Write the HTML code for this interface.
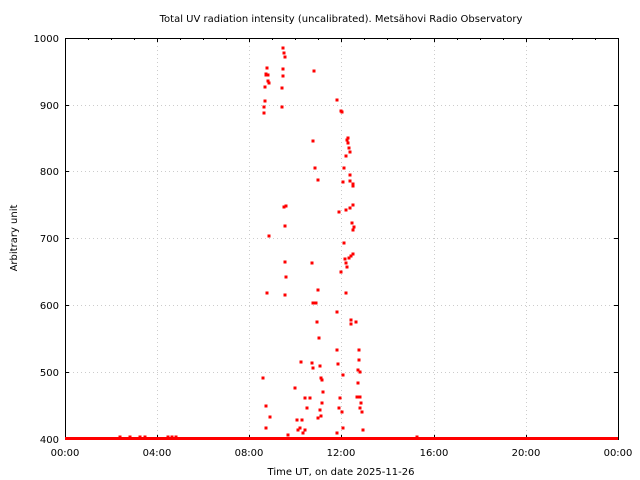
<!DOCTYPE html>
<html><head><meta charset="utf-8"><style>body{margin:0;background:#fff}svg{display:block}text{font-family:"DejaVu Sans","Liberation Sans",sans-serif;font-size:10px;fill:#000}</style></head><body>
<svg width="640" height="480" viewBox="0 0 640 480">
<g stroke="#ccc" stroke-dasharray="1,3" stroke-width="1">
<line x1="157.5" y1="38" x2="157.5" y2="439"/><line x1="249.5" y1="38" x2="249.5" y2="439"/><line x1="341.5" y1="38" x2="341.5" y2="439"/><line x1="434.5" y1="38" x2="434.5" y2="439"/><line x1="526.5" y1="38" x2="526.5" y2="439"/>
<line x1="65" y1="105.5" x2="618" y2="105.5"/><line x1="65" y1="171.5" x2="618" y2="171.5"/><line x1="65" y1="238.5" x2="618" y2="238.5"/><line x1="65" y1="305.5" x2="618" y2="305.5"/><line x1="65" y1="372.5" x2="618" y2="372.5"/>
</g>
<rect x="65.5" y="38.5" width="553" height="401" fill="none" stroke="#000"/>
<path stroke="#000" fill="none" d="M65.5 439v-4M88.5 439v-2M111.5 439v-2M134.5 439v-2M157.5 439v-4M180.5 439v-2M203.5 439v-2M226.5 439v-2M249.5 439v-4M272.5 439v-2M295.5 439v-2M318.5 439v-2M341.5 439v-4M364.5 439v-2M387.5 439v-2M410.5 439v-2M434.5 439v-4M457.5 439v-2M480.5 439v-2M503.5 439v-2M526.5 439v-4M549.5 439v-2M572.5 439v-2M595.5 439v-2M618.5 439v-4
M65.5 38v4M88.5 38v2M111.5 38v2M134.5 38v2M157.5 38v4M180.5 38v2M203.5 38v2M226.5 38v2M249.5 38v4M272.5 38v2M295.5 38v2M318.5 38v2M341.5 38v4M364.5 38v2M387.5 38v2M410.5 38v2M434.5 38v4M457.5 38v2M480.5 38v2M503.5 38v2M526.5 38v4M549.5 38v2M572.5 38v2M595.5 38v2M618.5 38v4
M65 105.5h4M65 171.5h4M65 238.5h4M65 305.5h4M65 372.5h4M618 105.5h-4M618 171.5h-4M618 238.5h-4M618 305.5h-4M618 372.5h-4"/>
<path stroke="#f00" stroke-width="3" stroke-linecap="square" fill="none" d="M264 113h0M264 107h0M265 101h0M265 87h0M266 75h0M266 74h0M267 68h0M268 75h0M268 81h0M269 83h0M267 293h0M269 236h0M270 417h0M263 378h0M266 406h0M266 428h0M283 48h0M284 53h0M285 57h0M283 69h0M283 76h0M282 88h0M282 107h0M284 207h0M286 206h0M285 226h0M285 262h0M286 277h0M285 295h0M288 435h0M314 71h0M313 141h0M315 168h0M318 180h0M312 263h0M313 303h0M316 303h0M318 290h0M317 322h0M319 338h0M320 366h0M321 378h0M322 380h0M323 392h0M322 403h0M320 410h0M321 416h0M318 418h0M295 388h0M301 362h0M305 398h0M307 408h0M310 398h0M312 363h0M313 368h0M300 428h0M302 420h0M305 430h0M298 430h0M297 420h0M303 433h0M337 100h0M341 111h0M342 112h0M348 138h0M347 140h0M348 143h0M349 148h0M350 152h0M346 156h0M344 168h0M350 175h0M350 181h0M353 184h0M353 186h0M343 182h0M339 212h0M346 210h0M350 208h0M353 205h0M352 223h0M354 227h0M353 230h0M344 243h0M345 259h0M346 263h0M347 267h0M349 258h0M351 256h0M353 254h0M341 272h0M346 293h0M337 312h0M351 320h0M351 324h0M356 322h0M337 350h0M338 364h0M343 375h0M359 350h0M359 360h0M358 370h0M360 372h0M358 383h0M360 397h0M357 397h0M361 403h0M360 408h0M362 412h0M340 398h0M339 408h0M342 412h0M363 430h0M343 428h0M337 433h0M120 437h0M130 437h0M140 437h0M145 437h0M168 437h0M172 437h0M176 437h0M417 437h0"/>
<line x1="65" y1="438.5" x2="618" y2="438.5" stroke="#f00" stroke-width="3"/>
<text x="341" y="22" text-anchor="middle">Total UV radiation intensity (uncalibrated). Metsähovi Radio Observatory</text>
<g text-anchor="end"><text x="59" y="42">1000</text><text x="59" y="109">900</text><text x="59" y="175">800</text><text x="59" y="242">700</text><text x="59" y="309">600</text><text x="59" y="376">500</text><text x="59" y="443">400</text></g>
<g text-anchor="middle"><text x="65" y="456">00:00</text><text x="157" y="456">04:00</text><text x="249" y="456">08:00</text><text x="341" y="456">12:00</text><text x="434" y="456">16:00</text><text x="526" y="456">20:00</text><text x="618" y="456">00:00</text>
<text x="341" y="475">Time UT, on date 2025-11-26</text>
<text transform="translate(17,238) rotate(-90)">Arbitrary unit</text></g>
</svg></body></html>
